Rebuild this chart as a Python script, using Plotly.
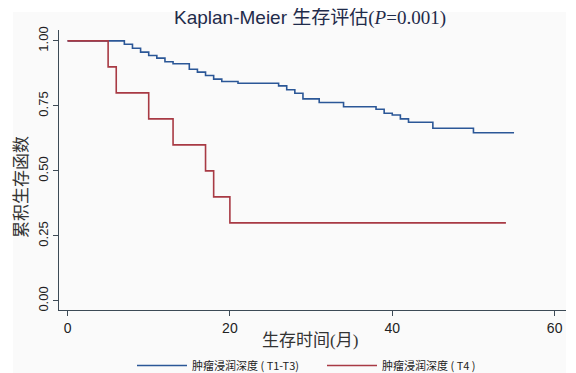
import plotly.graph_objects as go

# Kaplan-Meier step data (time in months, cumulative survival)
t13_time = [0, 7, 8, 9, 10, 11, 12, 13, 15, 16, 17, 18, 19, 21, 26, 27, 28, 29, 31, 34, 38, 39, 40, 41, 42, 45, 50, 55]
t13_surv = [1.0, 0.987, 0.972, 0.957, 0.944, 0.934, 0.920, 0.912, 0.891, 0.880, 0.867, 0.853, 0.844, 0.837,
            0.827, 0.812, 0.799, 0.777, 0.763, 0.747, 0.737, 0.722, 0.715, 0.700, 0.687, 0.664, 0.647, 0.647]
t4_time = [0, 5, 6, 10, 13, 17, 18, 20, 54]
t4_surv = [1.0, 0.9, 0.8, 0.7, 0.6, 0.5, 0.4, 0.3, 0.3]

series_names = ["肿瘤浸润深度 ( T1-T3)", "肿瘤浸润深度 ( T4 )"]
x_ticks = [0, 20, 40, 60]
y_ticks = [0.0, 0.25, 0.5, 0.75, 1.0]
y_ticklabels = ["0.00", "0.25", "0.50", "0.75", "1.00"]

BLUE = "#2b5797"
RED = "#a83a44"
BG = "#fafafa"
AX = "#3c4a56"

fig = go.Figure()
fig.add_trace(go.Scatter(x=t13_time, y=t13_surv, mode="lines", line=dict(color=BLUE, width=1.6, shape="hv"),
                         name=series_names[0]))
fig.add_trace(go.Scatter(x=t4_time, y=t4_surv, mode="lines", line=dict(color=RED, width=1.6, shape="hv"),
                         name=series_names[1]))

OFF = 8  # default page body margin
W, H = 576 - OFF, 373 - OFF
# page-pixel positions of the plot frame
PL, PR, PT, PB = 59, 566, 30, 310
L, R, T, B = PL - OFF, W - (PR - OFF), PT - OFF, H - (PB - OFF)
pw, ph = W - L - R, H - T - B

def px(xp):
    return (xp - PL) / pw

def py(yp):
    return (PB - yp) / ph

fig.add_shape(type="rect", xref="paper", yref="paper", x0=px(13), x1=px(566), y0=py(380), y1=py(12),
              fillcolor=BG, line=dict(width=0), layer="below")

fig.update_layout(
    width=W, height=H,
    margin=dict(l=L, r=R, t=T, b=B, autoexpand=False),
    paper_bgcolor="white",
    plot_bgcolor=BG,
    showlegend=True,
    legend=dict(orientation="h", x=px(132), xanchor="left", y=py(351), yanchor="top",
                font=dict(size=11, family="Noto Sans CJK SC", color="#222"),
                entrywidth=125, entrywidthmode="pixels", itemwidth=50,
                bgcolor="rgba(0,0,0,0)"),
    font=dict(family="Liberation Sans, Arial, sans-serif", color="#222"),
    annotations=[
        dict(text="Kaplan-Meier <span style='font-family:Liberation Serif, Noto Sans CJK SC'>生存评估(<i>P</i>=0.001)</span>",
             xref="paper", yref="paper", x=px(310), y=py(18), xanchor="center", yanchor="middle",
             showarrow=False, font=dict(size=19, color="#1f2b4a", family="Liberation Sans, Arial")),
        dict(text="生存时间(月)", xref="paper", yref="paper", x=px(310), y=py(340), xanchor="center",
             yanchor="middle", showarrow=False,
             font=dict(size=17, color="#333", family="Liberation Serif, Noto Sans CJK SC")),
        dict(text="累积生存函数", xref="paper", yref="paper", x=px(21), y=py(187), xanchor="center",
             yanchor="middle", textangle=-90, showarrow=False,
             font=dict(size=17, color="#333", family="Liberation Serif, Noto Sans CJK SC")),
    ],
)

fig.update_xaxes(range=[-1.05, 61.4], tickvals=x_ticks, ticks="outside", ticklen=5, tickcolor=AX,
                 showline=True, linecolor=AX, linewidth=1.3, showgrid=False, zeroline=False,
                 tickfont=dict(size=14, color="#222"))
fig.update_yaxes(range=[-0.035, 1.042], tickvals=y_ticks, ticktext=y_ticklabels, ticks="outside", ticklen=5,
                 tickcolor=AX, showline=True, linecolor=AX, linewidth=1.3, showgrid=False, zeroline=False,
                 tickangle=-90, tickfont=dict(size=13, color="#222"))

fig.write_html("out.html")
